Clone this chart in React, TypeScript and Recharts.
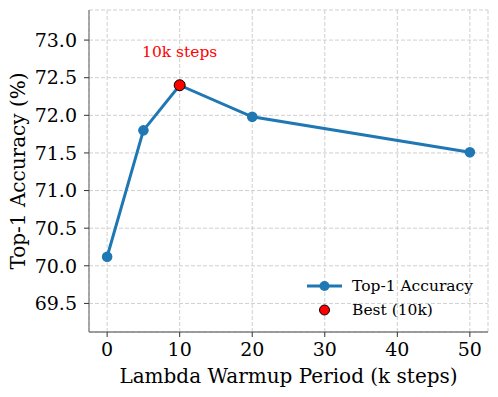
import React from 'react';
import { ComposedChart, Line, XAxis, YAxis, CartesianGrid, ReferenceDot } from 'recharts';

const warmupK = [0, 5, 10, 20, 50];
const top1Acc = [70.12, 71.8, 72.4, 71.98, 71.51];
const bestX = 10;
const bestY = 72.4;
const xTicks = [0, 10, 20, 30, 40, 50];
const yTicks = [69.5, 70.0, 70.5, 71.0, 71.5, 72.0, 72.5, 73.0];
const annotationText = '10k steps';
const annotationY = 72.845;
const legendLabels = ['Top-1 Accuracy', 'Best (10k)'];

const lineData = warmupK.map((x, i) => ({ x, acc: top1Acc[i] }));

const FONT = 'DejaVu Serif';
const BLUE = '#1f77b4';
const SPINE = '#7f7f7f';
const TICK = '#333';

const LegendBox = () => (
  <div style={{ position: 'absolute', left: 302, top: 274, fontFamily: FONT, fontSize: 15.5, color: '#000', lineHeight: '24px' }}>
    <div style={{ display: 'flex', alignItems: 'center', height: 24 }}>
      <svg width={46} height={20}>
        <line x1={5} y1={10} x2={40} y2={10} stroke={BLUE} strokeWidth={3} />
        <circle cx={22.5} cy={10} r={5} fill={BLUE} />
      </svg>
      <span style={{ marginLeft: 4 }}>{legendLabels[0]}</span>
    </div>
    <div style={{ display: 'flex', alignItems: 'center', height: 24 }}>
      <svg width={46} height={20}>
        <circle cx={22.5} cy={10} r={5} fill="red" stroke="#000" strokeWidth={1} />
      </svg>
      <span style={{ marginLeft: 4 }}>{legendLabels[1]}</span>
    </div>
  </div>
);

export default function App() {
  return (
    <div style={{ position: 'absolute', left: 0, top: 0, width: 498, height: 397, background: '#fff' }}>
      <ComposedChart width={498} height={397} margin={{ top: 10, right: 10, bottom: 15, left: 19 }}>
        <CartesianGrid stroke="#cfcfcf" strokeDasharray="4 2" />
        <XAxis
          dataKey="x"
          type="number"
          domain={[-2.5, 52.5]}
          ticks={xTicks}
          allowDataOverflow
          height={50}
          tick={{ fontFamily: FONT, fontSize: 19, fill: '#000' }}
          tickLine={{ stroke: TICK }}
          axisLine={{ stroke: SPINE, strokeWidth: 1.3 }}
          tickSize={5}
          tickMargin={6}
          label={(props: any) => {
            const vb = props.viewBox;
            return (
              <text x={vb.x + vb.width / 2} y={vb.y + 51} textAnchor="middle" fontFamily={FONT} fontSize={20} fill="#000">
                Lambda Warmup Period (k steps)
              </text>
            );
          }}
        />
        <XAxis xAxisId="top" orientation="top" type="number" domain={[-2.5, 52.5]} height={0} tick={false} tickLine={false} axisLine={{ stroke: SPINE, strokeWidth: 1.3 }} />
        <YAxis
          type="number"
          domain={[69.12, 73.4]}
          ticks={yTicks}
          allowDataOverflow
          width={70}
          tickFormatter={(v: number) => v.toFixed(1)}
          tick={{ fontFamily: FONT, fontSize: 19, fill: '#000' }}
          tickLine={{ stroke: TICK }}
          axisLine={{ stroke: SPINE, strokeWidth: 1.3 }}
          tickSize={5}
          tickMargin={7}
          label={(props: any) => {
            const vb = props.viewBox;
            const cy = vb.y + vb.height / 2;
            return (
              <text x={18} y={cy} textAnchor="middle" dominantBaseline="central" transform={`rotate(-90, 18, ${cy})`} fontFamily={FONT} fontSize={20} fill="#000">
                Top-1 Accuracy (%)
              </text>
            );
          }}
        />
        <YAxis yAxisId="right" orientation="right" type="number" domain={[69.12, 73.4]} width={0} tick={false} tickLine={false} axisLine={{ stroke: TICK, strokeWidth: 1.3 }} />
        <Line
          data={lineData}
          dataKey="acc"
          stroke={BLUE}
          strokeWidth={3}
          dot={{ r: 5.3, fill: BLUE, stroke: BLUE, strokeWidth: 0 }}
          activeDot={false}
          isAnimationActive={false}
        />
        <ReferenceDot x={bestX} y={bestY} r={5.5} fill="red" stroke="#000" strokeWidth={1} />
        <ReferenceDot
          x={bestX}
          y={annotationY}
          r={0}
          fill="none"
          stroke="none"
          label={{ value: annotationText, position: 'center', fill: 'red', fontFamily: FONT, fontSize: 15.5 }}
        />
      </ComposedChart>
      <LegendBox />
    </div>
  );
}
